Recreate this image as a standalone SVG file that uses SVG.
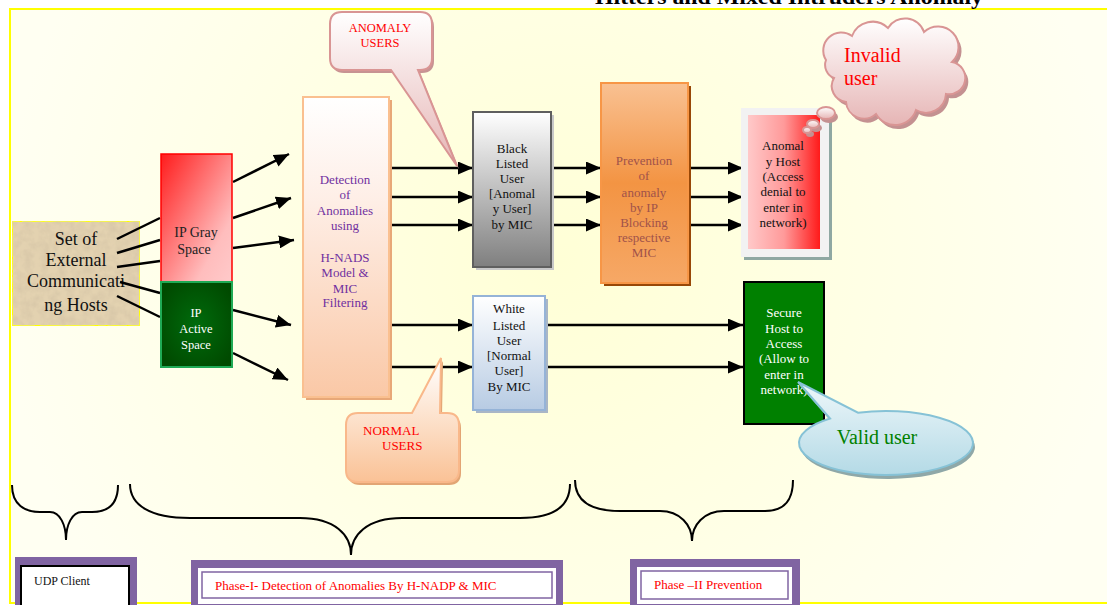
<svg xmlns="http://www.w3.org/2000/svg" width="1107" height="605" viewBox="0 0 1107 605">
<defs>
<style>
.t{font-family:"Liberation Serif","Times New Roman",serif;text-anchor:middle}
.s13{font-size:13px}
.conn line,.conn path.l{stroke:#000;stroke-width:2.5;fill:none}
.brace{stroke:#000;stroke-width:2;fill:none}
</style>
<radialGradient id="bg" cx="560" cy="260" r="560" gradientUnits="userSpaceOnUse">
<stop offset="0" stop-color="#FFFFD6"/><stop offset="1" stop-color="#FFFFF2"/>
</radialGradient>
<linearGradient id="gGray" x1="0" y1="0" x2="1" y2="1"><stop offset="0" stop-color="#FF1C1C"/><stop offset="0.75" stop-color="#FFBDBD"/><stop offset="1" stop-color="#FFCACA"/></linearGradient>
<radialGradient id="gAct" cx="0.5" cy="0.5" r="0.6"><stop offset="0" stop-color="#006B0C"/><stop offset="1" stop-color="#004A00"/></radialGradient>
<linearGradient id="gDet" x1="0" y1="0" x2="0" y2="1"><stop offset="0" stop-color="#FFFFFF"/><stop offset="0.35" stop-color="#FEEEE6"/><stop offset="1" stop-color="#FAC8A6"/></linearGradient>
<linearGradient id="gBlk" x1="0" y1="0" x2="0" y2="1"><stop offset="0" stop-color="#FFFFFF"/><stop offset="1" stop-color="#7F7F7F"/></linearGradient>
<linearGradient id="gWht" x1="0" y1="0" x2="0" y2="1"><stop offset="0" stop-color="#FFFFFF"/><stop offset="1" stop-color="#B7CBE3"/></linearGradient>
<linearGradient id="gPrev" x1="0" y1="0" x2="0" y2="1"><stop offset="0" stop-color="#F9C192"/><stop offset="0.5" stop-color="#F39443"/><stop offset="1" stop-color="#F6A866"/></linearGradient>
<linearGradient id="gAnH" x1="0" y1="0" x2="1" y2="0"><stop offset="0" stop-color="#FFC9C9"/><stop offset="0.5" stop-color="#FF9A9A"/><stop offset="1" stop-color="#FF1A1A"/></linearGradient>
<linearGradient id="gPink" x1="0" y1="0" x2="0" y2="1"><stop offset="0" stop-color="#FFFFFF"/><stop offset="1" stop-color="#E6B5B5"/></linearGradient>
<linearGradient id="gPeach" x1="0" y1="0" x2="0" y2="1"><stop offset="0" stop-color="#FFFFFF"/><stop offset="1" stop-color="#FAC296"/></linearGradient>
<linearGradient id="gBlue" x1="0" y1="0" x2="0" y2="1"><stop offset="0" stop-color="#EEF7FA"/><stop offset="1" stop-color="#B4DAE6"/></linearGradient>
<filter id="tex" x="0" y="0" width="1" height="1">
<feTurbulence type="fractalNoise" baseFrequency="0.12" numOctaves="3" seed="3" result="n"/>
<feColorMatrix in="n" type="matrix" values="0 0 0 0 0.6  0 0 0 0 0.5  0 0 0 0 0.35  0.9 0 0 0 -0.3" result="c"/>
<feComposite in="c" in2="SourceGraphic" operator="in" result="ci"/>
<feMerge><feMergeNode in="SourceGraphic"/><feMergeNode in="ci"/></feMerge>
</filter>
<marker id="ah" markerUnits="userSpaceOnUse" markerWidth="15" markerHeight="13" refX="15" refY="6.5" orient="auto">
<path d="M0,0 L15,6.5 L0,13 z" fill="#000"/>
</marker>
</defs>

<!-- background -->
<rect x="0" y="0" width="1107" height="605" fill="#FFFFFF"/>
<rect x="10" y="9" width="1110" height="594" fill="url(#bg)" stroke="#FFFF00" stroke-width="2"/>
<text x="595" y="4" font-family="Liberation Serif,serif" font-weight="bold" font-size="21" textLength="388" lengthAdjust="spacingAndGlyphs">Hitters and Mixed Intruders Anomaly</text>

<!-- hosts -->
<g id="hosts">
<rect x="12" y="221" width="128" height="105" fill="#E3D2B0" stroke="#FFFF00" stroke-width="2" filter="url(#tex)"/>
<g class="t" font-size="18" fill="#111">
<text x="76" y="245">Set of</text>
<text x="76" y="266">External</text>
<text x="76" y="287">Communicati</text>
<text x="76" y="311">ng Hosts</text>
</g>
</g>

<!-- connectors -->
<g id="connectors" class="conn">
<line x1="117" y1="239" x2="160" y2="218"/>
<line x1="117" y1="253" x2="160" y2="240"/>
<line x1="117" y1="267" x2="160" y2="261"/>
<line x1="120" y1="282" x2="160" y2="293"/>
<line x1="117" y1="296" x2="160" y2="317"/>
<line x1="233" y1="182" x2="289" y2="154" marker-end="url(#ah)"/>
<line x1="233" y1="218" x2="291" y2="198" marker-end="url(#ah)"/>
<line x1="233" y1="248" x2="294" y2="240" marker-end="url(#ah)"/>
<line x1="233" y1="310" x2="291" y2="325" marker-end="url(#ah)"/>
<line x1="233" y1="353" x2="288" y2="380" marker-end="url(#ah)"/>
<line x1="388" y1="168" x2="473" y2="168" marker-end="url(#ah)"/>
<line x1="388" y1="197" x2="473" y2="197" marker-end="url(#ah)"/>
<line x1="388" y1="225" x2="473" y2="225" marker-end="url(#ah)"/>
<line x1="388" y1="325" x2="473" y2="325" marker-end="url(#ah)"/>
<line x1="388" y1="367" x2="473" y2="367" marker-end="url(#ah)"/>
<line x1="552" y1="168" x2="601" y2="168" marker-end="url(#ah)"/>
<line x1="545" y1="197" x2="601" y2="197" marker-end="url(#ah)"/>
<line x1="545" y1="225" x2="601" y2="225" marker-end="url(#ah)"/>
<line x1="686" y1="168" x2="743" y2="168" marker-end="url(#ah)"/>
<line x1="686" y1="197" x2="743" y2="197" marker-end="url(#ah)"/>
<line x1="686" y1="225" x2="743" y2="225" marker-end="url(#ah)"/>
<line x1="545" y1="325" x2="743" y2="325" marker-end="url(#ah)"/>
<line x1="545" y1="367" x2="743" y2="367" marker-end="url(#ah)"/>
</g>

<g id="ipgray">
<rect x="161" y="154" width="71" height="128" fill="url(#gGray)" stroke="#FF0000" stroke-width="1.5"/>
<g class="t" font-size="14" fill="#222"><text x="196" y="237">IP Gray</text><text x="194" y="254">Space</text></g>
</g>
<g id="ipactive">
<rect x="161" y="282" width="71" height="85" fill="url(#gAct)" stroke="#1FAA55" stroke-width="2"/>
<g class="t" font-size="12.5" fill="#FFFFFF"><text x="196" y="317">IP</text><text x="196" y="333">Active</text><text x="196" y="349">Space</text></g>
</g>

<g id="detection">
<rect x="306" y="100" width="86" height="300" fill="#E8A878"/>
<rect x="303" y="97" width="86" height="300" fill="url(#gDet)" stroke="#FAC090" stroke-width="2"/>
<g class="t s13" fill="#7030A0">
<text x="345" y="184">Detection</text><text x="345" y="199">of</text><text x="345" y="215">Anomalies</text><text x="345" y="230">using</text>
<text x="345" y="262">H-NADS</text><text x="345" y="277">Model &amp;</text><text x="345" y="293">MIC</text><text x="345" y="307">Filtering</text>
</g>
</g>

<g id="blacklist">
<rect x="476" y="115" width="78" height="155" fill="#C8C8C8"/>
<rect x="473" y="112" width="78" height="155" fill="url(#gBlk)" stroke="#5F5F5F" stroke-width="2"/>
<g class="t s13" fill="#111">
<text x="512" y="153">Black</text><text x="512" y="168">Listed</text><text x="512" y="183">User</text><text x="512" y="198">[Anomal</text><text x="512" y="213">y User]</text><text x="512" y="229">by MIC</text>
</g>
</g>

<g id="whitelist">
<rect x="476" y="299" width="72" height="114" fill="#A9B6C6"/>
<rect x="473" y="296" width="72" height="114" fill="url(#gWht)" stroke="#95B3D7" stroke-width="2"/>
<g class="t s13" fill="#111">
<text x="509" y="313">White</text><text x="509" y="330">Listed</text><text x="509" y="345">User</text><text x="509" y="360">[Normal</text><text x="509" y="375">User]</text><text x="509" y="391">By MIC</text>
</g>
</g>

<g id="prevention">
<rect x="604" y="86" width="87" height="200" fill="#984807"/>
<rect x="601" y="83" width="87" height="200" fill="url(#gPrev)" stroke="#F79646" stroke-width="2"/>
<g class="t s13" fill="#A0524A">
<text x="644" y="165">Prevention</text><text x="644" y="180">of</text><text x="644" y="197">anomaly</text><text x="644" y="212">by IP</text><text x="644" y="227">Blocking</text><text x="644" y="242">respective</text><text x="644" y="257">MIC</text>
</g>
</g>

<g id="anomalyhost">
<rect x="744" y="111" width="88" height="149" fill="#8FA8A2"/>
<rect x="741" y="108" width="88" height="149" fill="#F2F2F2"/>
<rect x="748" y="115" width="72" height="134" fill="url(#gAnH)"/>
<g class="t s13" fill="#111">
<text x="783" y="150">Anomal</text><text x="783" y="166">y Host</text><text x="783" y="181">(Access</text><text x="783" y="196">denial to</text><text x="783" y="212">enter in</text><text x="783" y="227">network)</text>
</g>
</g>

<g id="securehost">
<rect x="744" y="282" width="80" height="142" fill="#008000" stroke="#000" stroke-width="2"/>
<g class="t s13" fill="#FFFFFF">
<text x="784" y="317">Secure</text><text x="784" y="333">Host to</text><text x="784" y="348">Access</text><text x="784" y="363">(Allow to</text><text x="784" y="379">enter in</text><text x="784" y="394">network)</text>
</g>
</g>

<g id="anomalyusers">
<path transform="translate(2,3)" d="M342,12 H420 Q432,12 432,24 V58 Q432,70 420,70 H418 L457,166 L391,70 H342 Q330,70 330,58 V24 Q330,12 342,12 Z" fill="#C79393"/>
<path d="M342,12 H420 Q432,12 432,24 V58 Q432,70 420,70 H418 L457,166 L391,70 H342 Q330,70 330,58 V24 Q330,12 342,12 Z" fill="url(#gPink)" stroke="#D99594" stroke-width="2"/>
<g class="t" font-size="12.5" fill="#FF0000"><text x="380" y="32">ANOMALY</text><text x="380" y="47">USERS</text></g>
</g>

<g id="normalusers">
<path transform="translate(2,3)" d="M358,413 H412 L441,358 L440,413 H447 Q459,413 459,425 V470 Q459,482 447,482 H358 Q346,482 346,470 V425 Q346,413 358,413 Z" fill="#E2A574"/>
<path d="M358,413 H412 L441,358 L440,413 H447 Q459,413 459,425 V470 Q459,482 447,482 H358 Q346,482 346,470 V425 Q346,413 358,413 Z" fill="url(#gPeach)" stroke="#F9B88A" stroke-width="2"/>
<g font-family="Liberation Serif,serif" font-size="13" fill="#FF0000"><text x="363" y="435">NORMAL</text><text x="382" y="450">USERS</text></g>
</g>

<g id="invaliduser">
<g transform="translate(3,4)" fill="#C49191">
<path d="M826,60 a18,18 0 0 1 26,-24 a22,22 0 0 1 36,-8 a20,20 0 0 1 36,4 a18,18 0 0 1 28,30 a16,16 0 0 1 -6,32 a20,20 0 0 1 -30,16 a22,22 0 0 1 -40,4 a18,18 0 0 1 -30,-12 a16,16 0 0 1 -12,-24 a14,14 0 0 1 -8,-18 z"/>
<ellipse cx="826" cy="113" rx="9" ry="6"/><ellipse cx="813" cy="124" rx="6" ry="4"/><ellipse cx="807" cy="130" rx="4" ry="3"/>
</g>
<g fill="url(#gPink)" stroke="#D99594" stroke-width="2">
<path d="M826,60 a18,18 0 0 1 26,-24 a22,22 0 0 1 36,-8 a20,20 0 0 1 36,4 a18,18 0 0 1 28,30 a16,16 0 0 1 -6,32 a20,20 0 0 1 -30,16 a22,22 0 0 1 -40,4 a18,18 0 0 1 -30,-12 a16,16 0 0 1 -12,-24 a14,14 0 0 1 -8,-18 z"/>
<ellipse cx="826" cy="113" rx="9" ry="6"/><ellipse cx="813" cy="124" rx="6" ry="4"/><ellipse cx="807" cy="130" rx="4" ry="3"/>
</g>
<g font-family="Liberation Serif,serif" font-size="20" fill="#FF0000"><text x="844" y="62">Invalid</text><text x="844" y="85">user</text></g>
</g>

<g id="validuser">
<path transform="translate(2,4)" d="M830,418.5 L798,382 L858,412.7 A87,32 0 1 1 830,418.5 Z" fill="#8FA8A8"/>
<path d="M830,418.5 L798,382 L858,412.7 A87,32 0 1 1 830,418.5 Z" fill="url(#gBlue)" stroke="#86C2D6" stroke-width="2"/>
<text class="t" x="877" y="444" font-size="20" fill="#008000">Valid user</text>
</g>

<!-- braces -->
<g id="braces">
<path class="brace" d="M12,485 C12,505 25,512 40,512 H50 C60,512 66,525 66,540 C66,525 72,512 82,512 H92 C107,512 118,505 118,485"/>
<path class="brace" d="M130,484 C130,505 150,518 190,518 H300 C335,518 351,535 351,555 C351,535 367,518 402,518 H520 C555,518 570,505 570,484"/>
<path class="brace" d="M575,480 C575,500 590,511 620,511 H660 C680,511 692,525 692,541 C692,525 704,511 724,511 H765 C785,511 793,500 793,480"/>
</g>

<g id="udpclient">
<rect x="15" y="557" width="122" height="50" fill="#8064A2"/>
<rect x="21" y="566" width="108" height="42" fill="#FFFFFF" stroke="#000" stroke-width="2"/>
<text x="34" y="585" font-family="Liberation Serif,serif" font-size="12" fill="#111">UDP Client</text>
</g>

<g id="phase1">
<rect x="191" y="560" width="372" height="47" fill="#8064A2"/>
<rect x="198" y="568" width="358" height="36" fill="#FFFFFF"/>
<rect x="202" y="572" width="350" height="26" fill="#FFFFFF" stroke="#8064A2" stroke-width="1.5"/>
<text x="215" y="590" font-family="Liberation Serif,serif" font-size="13" fill="#FF0000">Phase-I- Detection of Anomalies By H-NADP &amp; MIC</text>
</g>

<g id="phase2">
<rect x="630" y="559" width="170" height="48" fill="#8064A2"/>
<rect x="637" y="567" width="155" height="37" fill="#FFFFFF"/>
<rect x="641" y="571" width="147" height="28" fill="#FFFFFF" stroke="#8064A2" stroke-width="1.5"/>
<text x="654" y="589" font-family="Liberation Serif,serif" font-size="13" fill="#FF0000">Phase –II Prevention</text>
</g>
</svg>
